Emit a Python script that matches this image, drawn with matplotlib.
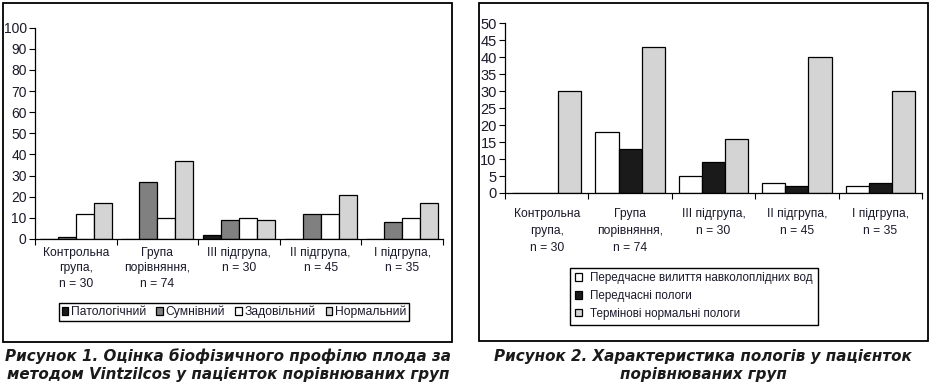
import matplotlib
matplotlib.use("Agg")
import matplotlib.pyplot as plt
import numpy as np
from matplotlib.patches import Rectangle

# ---- data ----
categories = ["Контрольна\nгрупа,\nn = 30", "Група\nпорівняння,\nn = 74",
              "III підгрупа,\nn = 30", "II підгрупа,\nn = 45", "I підгрупа,\nn = 35"]

fig1_series = ["Патологічний", "Сумнівний", "Задовільний", "Нормальний"]
fig1_patolog = [0, 0, 2, 0, 0]
fig1_sumniv = [1, 27, 9, 12, 8]
fig1_zadov = [12, 10, 10, 12, 10]
fig1_normal = [17, 37, 9, 21, 17]

fig2_series = ["Передчасне вилиття навколоплідних вод", "Передчасні пологи",
               "Термінові нормальні пологи"]
fig2_vylittya = [0, 18, 5, 3, 2]
fig2_peredch = [0, 13, 9, 2, 3]
fig2_terminovi = [30, 43, 16, 40, 30]

fig1_yticks = list(range(0, 101, 10))
fig2_yticks = list(range(0, 51, 5))

caption1 = "Рисунок 1. Оцінка біофізичного профілю плода за\nметодом Vintzilcos у пацієнток порівнюваних груп"
caption2 = "Рисунок 2. Характеристика пологів у пацієнток\nпорівнюваних груп"

# ---- fonts ----
plt.rcParams['font.family'] = ['Liberation Sans', 'DejaVu Sans']
TXT = "#1a1a2a"
FS = 8.7

W, H = 932, 388
fig = plt.figure(figsize=(W / 100, H / 100), dpi=100)

def frac_box(x0, y0, x1, y1):
    return [x0 / W, 1 - y1 / H, (x1 - x0) / W, (y1 - y0) / H]

# panel frames
for (x0, y0, x1, y1) in [(3, 3, 452, 342), (479, 3, 928, 341)]:
    fig.patches.append(Rectangle((x0 / W, 1 - y1 / H), (x1 - x0) / W, (y1 - y0) / H,
                                 transform=fig.transFigure, fill=False,
                                 edgecolor="black", linewidth=1.3))

def style_axes(ax, yticks, ls, pad, ysize):
    ax.set_xlim(0, 5)
    ax.set_ylim(yticks[0], yticks[-1])
    ax.set_yticks(yticks)
    ax.set_xticks(range(0, 6))
    ax.set_xticklabels([])
    ax.set_xticks(np.arange(5) + 0.5, minor=True)
    ax.set_xticklabels(categories, minor=True, fontsize=FS, color=TXT,
                       linespacing=ls)
    ax.tick_params(axis='x', which='minor', length=0, pad=pad)
    ax.tick_params(axis='x', which='major', length=4, width=0.8, direction='out')
    ax.tick_params(axis='y', length=4, width=0.8, direction='out', labelsize=ysize,
                   labelcolor=TXT, pad=2)
    for s in ["top", "right"]:
        ax.spines[s].set_visible(False)
    for s in ["left", "bottom"]:
        ax.spines[s].set_linewidth(0.9)
    ax.patch.set_alpha(0)

x = np.arange(5) + 0.5

# ---- figure 1 ----
ax1 = fig.add_axes(frac_box(35, 27.7, 443, 239))
bw = 0.22
colors1 = ["#1a1a1a", "#808080", "#ffffff", "#d4d4d4"]
vals1 = [fig1_patolog, fig1_sumniv, fig1_zadov, fig1_normal]
handles1 = []
for i, (v, c, lab) in enumerate(zip(vals1, colors1, fig1_series)):
    b = ax1.bar(x + (i - 1.5) * bw, v, bw, color=c, edgecolor="black",
                linewidth=0.9, label=lab)
    handles1.append(b)
style_axes(ax1, fig1_yticks, 1.35, 6, 10)
leg1 = fig.legend(handles=handles1, labels=fig1_series, ncol=4,
                  loc="center", bbox_to_anchor=(234 / W, 1 - 312 / H),
                  fontsize=FS, frameon=True, fancybox=False, framealpha=1,
                  edgecolor="black", handlelength=0.55, handleheight=0.55,
                  handletextpad=0.2, columnspacing=0.85, borderpad=0.25)
leg1.get_frame().set_linewidth(1.0)
for t in leg1.get_texts():
    t.set_color(TXT)

# ---- figure 2 ----
ax2 = fig.add_axes(frac_box(505, 23.3, 922, 193))
bw2 = 0.277
colors2 = ["#ffffff", "#1a1a1a", "#d4d4d4"]
vals2 = [fig2_vylittya, fig2_peredch, fig2_terminovi]
handles2 = []
for i, (v, c, lab) in enumerate(zip(vals2, colors2, fig2_series)):
    b = ax2.bar(x + (i - 1) * bw2, v, bw2, color=c, edgecolor="black",
                linewidth=0.9, label=lab)
    handles2.append(b)
style_axes(ax2, fig2_yticks, 1.55, 11, 10.5)
leg2 = fig.legend(handles=handles2, labels=fig2_series, ncol=1,
                  loc="center", bbox_to_anchor=(694 / W, 1 - 296 / H),
                  fontsize=8.4, frameon=True, fancybox=False, framealpha=1,
                  edgecolor="black", handlelength=0.6, handleheight=0.6,
                  handletextpad=0.7, borderpad=0.4, labelspacing=0.5)
leg2.get_frame().set_linewidth(1.0)
for t in leg2.get_texts():
    t.set_color(TXT)

# ---- captions ----
cap_font = dict(family=['DejaVu Sans'], weight='bold',
                style='italic', fontsize=10.9, color="#1a1a1a",
                linespacing=1.25)
fig.text(228 / W, 1 - 365 / H, caption1, ha="center", va="center", **cap_font)
fig.text(703 / W, 1 - 365 / H, caption2, ha="center", va="center", **cap_font)

fig.savefig("out.png", dpi=100)
